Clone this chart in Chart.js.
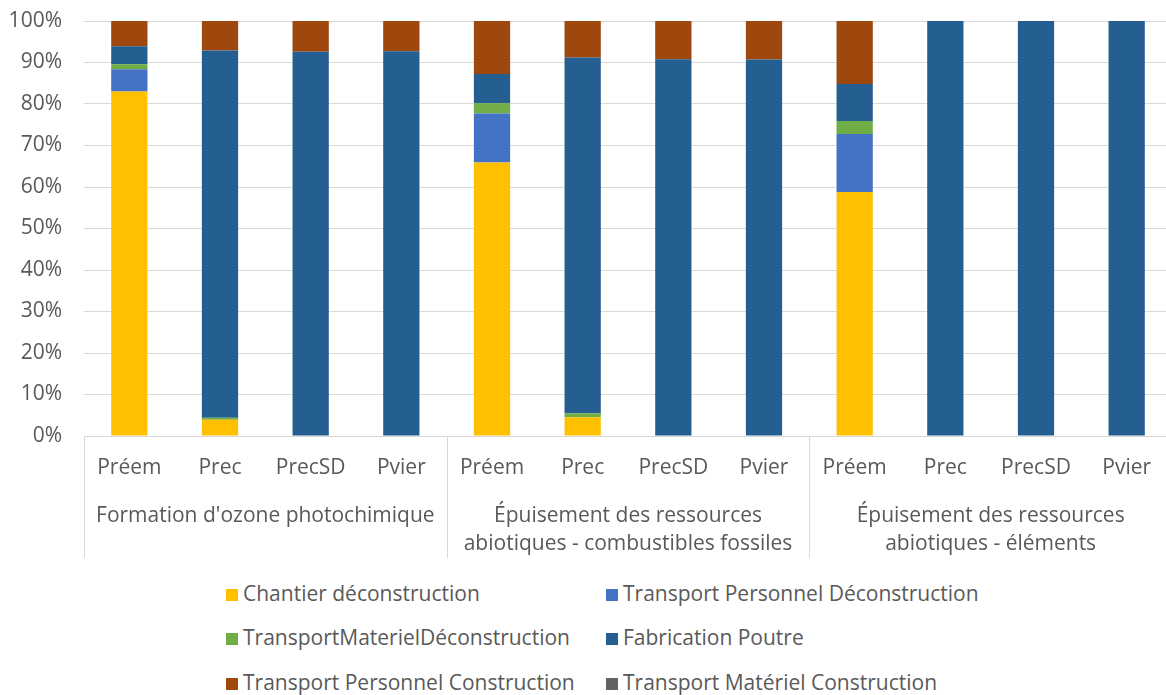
<!DOCTYPE html>
<html>
<head>
<meta charset="utf-8">
<script src="https://cdn.jsdelivr.net/npm/chart.js@4"></script>
<style>
  html, body { margin: 0; padding: 0; background: #fff; overflow: hidden; width: 1166px; height: 695px; }
  #wrap { position: absolute; left: 0; top: 0; width: 1172px; height: 565px; }
  #legend { position: absolute; left: 0; top: 565px; width: 1166px; height: 130px; font-family: "Open Sans", sans-serif; font-size: 21px; color: #595959; }
  .li { position: absolute; white-space: nowrap; line-height: 24px; }
  .li span.box { display: inline-block; width: 12px; height: 12px; margin-right: 5px; vertical-align: 0px; }
</style>
</head>
<body>
<div id="wrap"><canvas id="c"></canvas></div>
<div id="legend"></div>
<script>
const categories = ["Préem", "Prec", "PrecSD", "Pvier", "Préem", "Prec", "PrecSD", "Pvier", "Préem", "Prec", "PrecSD", "Pvier"];
const groups = [["Formation d'ozone photochimique"], ["Épuisement des ressources", "abiotiques - combustibles fossiles"], ["Épuisement des ressources", "abiotiques - éléments"]];
const yTicks = [0, 10, 20, 30, 40, 50, 60, 70, 80, 90, 100];

const seriesNames = ["Chantier déconstruction", "Transport Personnel Déconstruction", "TransportMaterielDéconstruction", "Fabrication Poutre", "Transport Personnel Construction", "Transport Matériel Construction"];
const chantierDeconstruction = [83.0, 3.9, 0, 0, 65.9, 4.5, 0, 0, 58.8, 0, 0, 0];
const transportPersonnelDeconstruction = [5.4, 0, 0, 0, 11.8, 0, 0, 0, 14.0, 0, 0, 0];
const transportMaterielDeconstruction = [1.2, 0.5, 0, 0, 2.5, 1.0, 0, 0, 3.1, 0, 0, 0];
const fabricationPoutre = [4.3, 88.5, 92.6, 92.7, 7.0, 85.7, 90.8, 90.7, 8.9, 100, 100, 100];
const transportPersonnelConstruction = [6.1, 7.1, 7.4, 7.3, 12.8, 8.8, 9.2, 9.3, 15.2, 0, 0, 0];
const transportMaterielConstruction = [0, 0, 0, 0, 0, 0, 0, 0, 0, 0, 0, 0];

const colors = ["#FFC000", "#4472C4", "#70AD47", "#255E91", "#9E480E", "#636363"];
const seriesData = [chantierDeconstruction, transportPersonnelDeconstruction, transportMaterielDeconstruction, fabricationPoutre, transportPersonnelConstruction, transportMaterielConstruction];

const FONT = "'Open Sans', sans-serif";
const TXT = "#595959";
const GRID = "#d9d9d9";

const separators = {
  id: 'separators',
  afterDraw(chart) {
    const x = chart.scales.x;
    const ctx = chart.ctx;
    const n = categories.length;
    const step = (x.right - x.left) / n;
    ctx.save();
    ctx.strokeStyle = GRID;
    ctx.lineWidth = 1;
    for (let g = 0; g <= groups.length; g++) {
      const px = Math.round(x.left + g * 4 * step) + 0.5;
      ctx.beginPath();
      ctx.moveTo(px, x.top);
      ctx.lineTo(px, x.top + 122);
      ctx.stroke();
    }
    ctx.restore();
  }
};

new Chart(document.getElementById('c'), {
  type: 'bar',
  data: {
    labels: categories,
    datasets: seriesNames.map((name, i) => ({
      label: name,
      data: seriesData[i],
      backgroundColor: colors[i],
      borderWidth: 0,
      barPercentage: 0.4,
      categoryPercentage: 1.0,
      xAxisID: 'x',
      yAxisID: 'y'
    }))
  },
  options: {
    responsive: true,
    maintainAspectRatio: false,
    animation: false,
    layout: { padding: { top: 21, left: 0, right: 0, bottom: 0 } },
    plugins: { legend: { display: false }, tooltip: { enabled: false } },
    scales: {
      x: {
        stacked: true,
        position: 'bottom',
        grid: { display: false, drawTicks: false },
        border: { display: true, color: GRID, width: 1 },
        ticks: { color: TXT, font: { family: FONT, size: 21 }, padding: 19, maxRotation: 0, autoSkip: false },
        afterFit(s) { s.height = 54; }
      },
      x2: {
        type: 'category',
        position: 'bottom',
        labels: groups,
        offset: true,
        grid: { display: false, drawTicks: false },
        border: { display: false },
        ticks: { color: TXT, font: { family: FONT, size: 21, lineHeight: '28px' }, padding: 12, maxRotation: 0, autoSkip: false },
        afterFit(s) { s.height = 75; }
      },
      y: {
        stacked: true,
        min: 0,
        max: 100,
        afterBuildTicks(s) { s.ticks = yTicks.map(v => ({ value: v })); },
        grid: { color: GRID, lineWidth: 1, drawTicks: true, tickLength: 22, tickColor: 'rgba(0,0,0,0)' },
        border: { display: false },
        ticks: { color: TXT, font: { family: FONT, size: 21 }, padding: 0, callback: v => v + '%' },
        afterFit(s) { s.width = 84; }
      }
    }
  },
  plugins: [separators]
});

// HTML legend (two columns)
const legend = document.getElementById('legend');
const pos = [[226, 16], [606, 16], [226, 60], [606, 60], [226, 105], [606, 105]];
seriesNames.forEach((name, i) => {
  const d = document.createElement('div');
  d.className = 'li';
  d.style.left = pos[i][0] + 'px';
  d.style.top = pos[i][1] + 'px';
  const b = document.createElement('span');
  b.className = 'box';
  b.style.background = colors[i];
  d.appendChild(b);
  d.appendChild(document.createTextNode(name));
  legend.appendChild(d);
});
</script>
</body>
</html>
